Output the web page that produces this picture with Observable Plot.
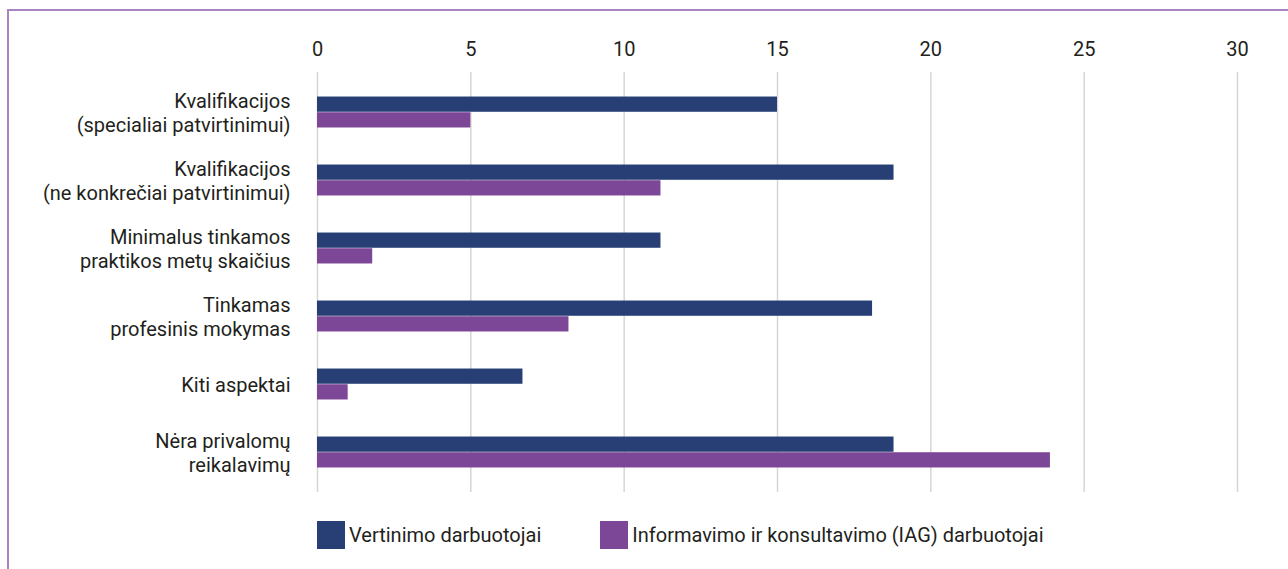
<!DOCTYPE html>
<html>
<head>
<meta charset="utf-8">
<script src="https://cdn.jsdelivr.net/npm/d3@7"></script>
<script src="https://cdn.jsdelivr.net/npm/@observablehq/plot@0.6"></script>
<style>
  html, body { margin: 0; padding: 0; background: #fff; }
  body { width: 1288px; height: 569px; overflow: hidden; position: relative;
         font-family: Roboto, 'Liberation Sans', sans-serif; color: #231f20; }
  #frame { position: absolute; left: 7px; top: 9px; width: 1400px; height: 700px;
           border-top: 2px solid #a885c2; border-left: 2px solid #a885c2; }
  #chart { position: absolute; left: 0; top: 0; }
  #legend { position: absolute; left: 317px; top: 521px; display: flex; align-items: center; font-size: 20px; }
  .item { display: flex; align-items: center; margin-right: 59px; }
  .sw { width: 28px; height: 28px; margin-right: 4px; }
</style>
</head>
<body>
<div id="frame"></div>
<div id="chart"></div>
<div id="legend"></div>
<script>
const categories = [
  "Kvalifikacijos\n(specialiai patvirtinimui)",
  "Kvalifikacijos\n(ne konkrečiai patvirtinimui)",
  "Minimalus tinkamos\npraktikos metų skaičius",
  "Tinkamas\nprofesinis mokymas",
  "Kiti aspektai",
  "Nėra privalomų\nreikalavimų"
];
const seriesNames = ["Vertinimo darbuotojai", "Informavimo ir konsultavimo (IAG) darbuotojai"];
const seriesColors = ["#283f76", "#7d4797"];
const vertinimo = [15, 18.8, 11.2, 18.1, 6.7, 18.8];
const iag = [5, 11.2, 1.8, 8.2, 1.0, 23.9];
const xTicks = [0, 5, 10, 15, 20, 25, 30];

const dataV = categories.map((c, i) => ({cat: c, value: vertinimo[i]}));
const dataI = categories.map((c, i) => ({cat: c, value: iag[i]}));

const band = 68.45, barH = 15.7;
const font = "Roboto, 'Liberation Sans', sans-serif";

const chart = Plot.plot({
  width: 1288,
  height: 500,
  marginTop: 72,
  marginBottom: 8,
  marginLeft: 317,
  marginRight: 51,
  style: {fontFamily: font, color: "#231f20", background: "transparent", overflow: "visible"},
  x: {domain: [0, 30], axis: null, label: null},
  y: {domain: categories, range: [76.5, 76.5 + band * 6], padding: 0, axis: null, label: null},
  marks: [
    Plot.gridX(xTicks, {stroke: "#d6d6d6", strokeOpacity: 1, strokeWidth: 1.5}),
    Plot.barX(dataV, {x: "value", y: "cat", fill: seriesColors[0], insetTop: band / 2 - barH, insetBottom: band / 2}),
    Plot.barX(dataI, {x: "value", y: "cat", fill: seriesColors[1], insetTop: band / 2, insetBottom: band / 2 - barH}),
    Plot.axisX(xTicks, {anchor: "top", tickSize: 0, tickPadding: 17, fontSize: 20, fill: "#231f20", label: null}),
    Plot.axisY({anchor: "left", tickSize: 0, tickPadding: 27, fontSize: 20, fill: "#231f20", lineHeight: 1.18, label: null})
  ]
});
document.getElementById("chart").appendChild(chart);

const legend = document.getElementById("legend");
seriesNames.forEach((n, i) => {
  const item = document.createElement("div");
  item.className = "item";
  const sw = document.createElement("div");
  sw.className = "sw";
  sw.style.background = seriesColors[i];
  const t = document.createElement("span");
  t.textContent = n;
  item.appendChild(sw);
  item.appendChild(t);
  legend.appendChild(item);
});
</script>
</body>
</html>
